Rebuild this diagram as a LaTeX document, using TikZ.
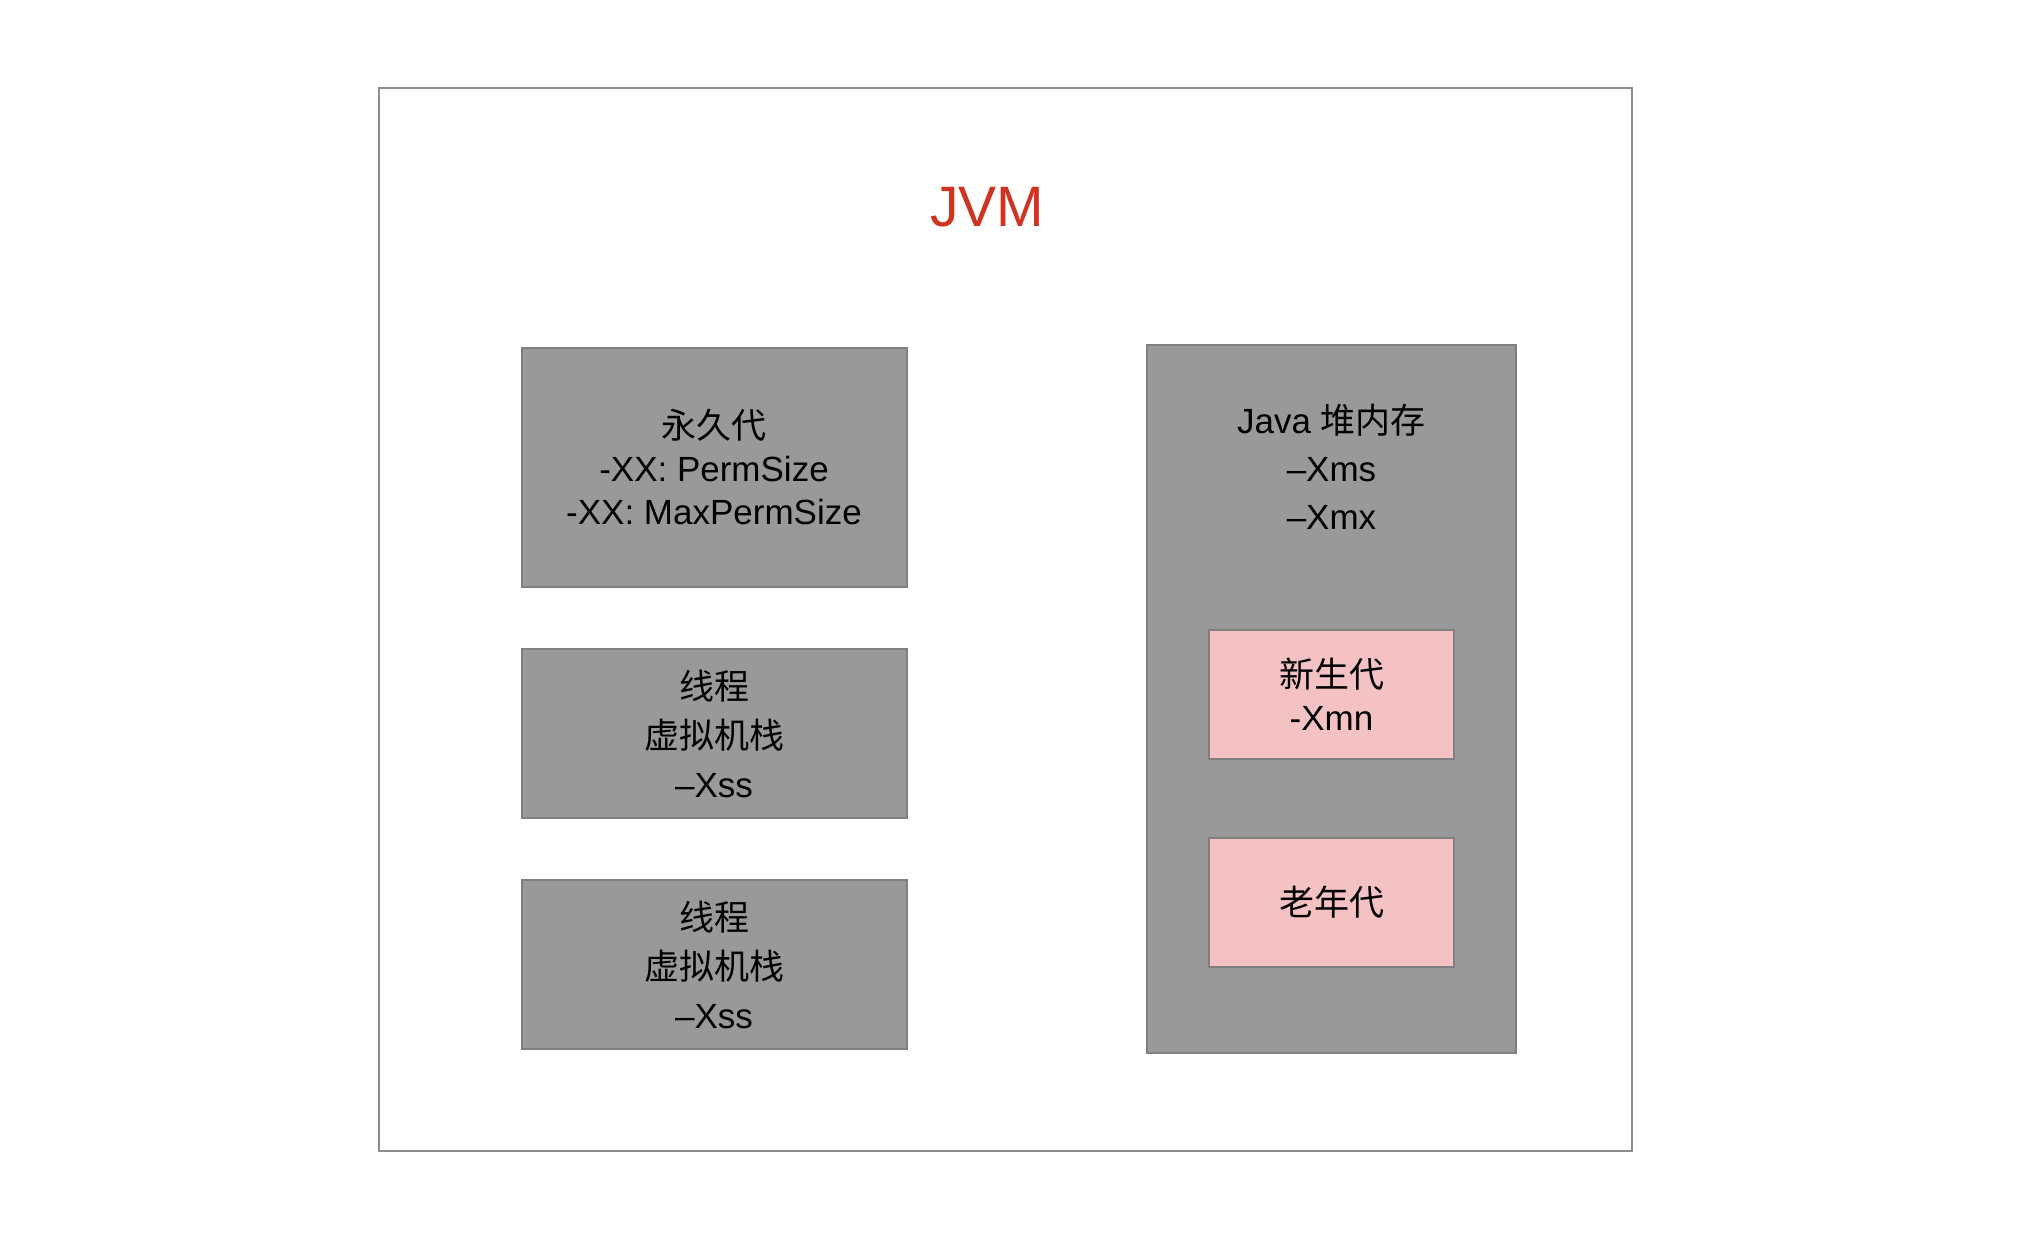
\documentclass[tikz,border=0pt]{standalone}
\usepackage{fontspec}
\setmainfont{Liberation Sans}
\newfontfamily\cjk{Noto Sans CJK SC}
\definecolor{boxgray}{RGB}{153,153,153}
\definecolor{edgegray}{RGB}{128,128,128}
\definecolor{outergray}{RGB}{140,140,140}
\definecolor{pinkfill}{RGB}{244,194,194}
\definecolor{jvmred}{RGB}{208,52,32}
\begin{document}
\begin{tikzpicture}[x=1pt,y=-1pt,
  graybox/.style={draw=edgegray, line width=2pt, fill=boxgray, rectangle, inner sep=0pt, align=center},
  pinkbox/.style={draw=edgegray, line width=2pt, fill=pinkfill, rectangle, inner sep=0pt, align=center},
  lbl/.style={font=\fontsize{35}{41}\selectfont, align=center, inner sep=0pt}]
\path[use as bounding box, fill=white] (0,0) rectangle (2020,1232);
\node[draw=outergray, line width=2.5pt, rectangle, inner sep=0pt, minimum width=1253, minimum height=1063] (jvm) at (1005.5,619.5) {};
\node[font=\fontsize{57}{60}\selectfont, text=jvmred, inner sep=0pt] (jvmtitle) at (987,207) {JVM};
\node[graybox, minimum width=385, minimum height=239, font=\fontsize{35}{43}\selectfont] (perm) at (714,467) {{\cjk 永久代}\\-XX: PermSize\\-XX: MaxPermSize};
\node[graybox, minimum width=385, minimum height=169, font=\fontsize{35}{49}\selectfont] (thread1) at (714,733.5) {{\cjk 线程}\\{\cjk 虚拟机栈}\\–Xss};
\node[graybox, minimum width=385, minimum height=169, font=\fontsize{35}{49}\selectfont] (thread2) at (714,964.5) {{\cjk 线程}\\{\cjk 虚拟机栈}\\–Xss};
\node[graybox, minimum width=369, minimum height=708] (heap) at (1331.5,699) {};
\node[lbl, font=\fontsize{35}{48}\selectfont] (heaptitle) at (1331.5,467) {Java {\cjk 堆内存}\\–Xms\\–Xmx};
\node[pinkbox, minimum width=245, minimum height=129, font=\fontsize{35}{43}\selectfont] (young) at (1331.5,694.5) {{\cjk 新生代}\\-Xmn};
\node[pinkbox, minimum width=245, minimum height=129, font=\fontsize{35}{43}\selectfont] (old) at (1331.5,902) {{\cjk 老年代}};
\end{tikzpicture}
\end{document}
